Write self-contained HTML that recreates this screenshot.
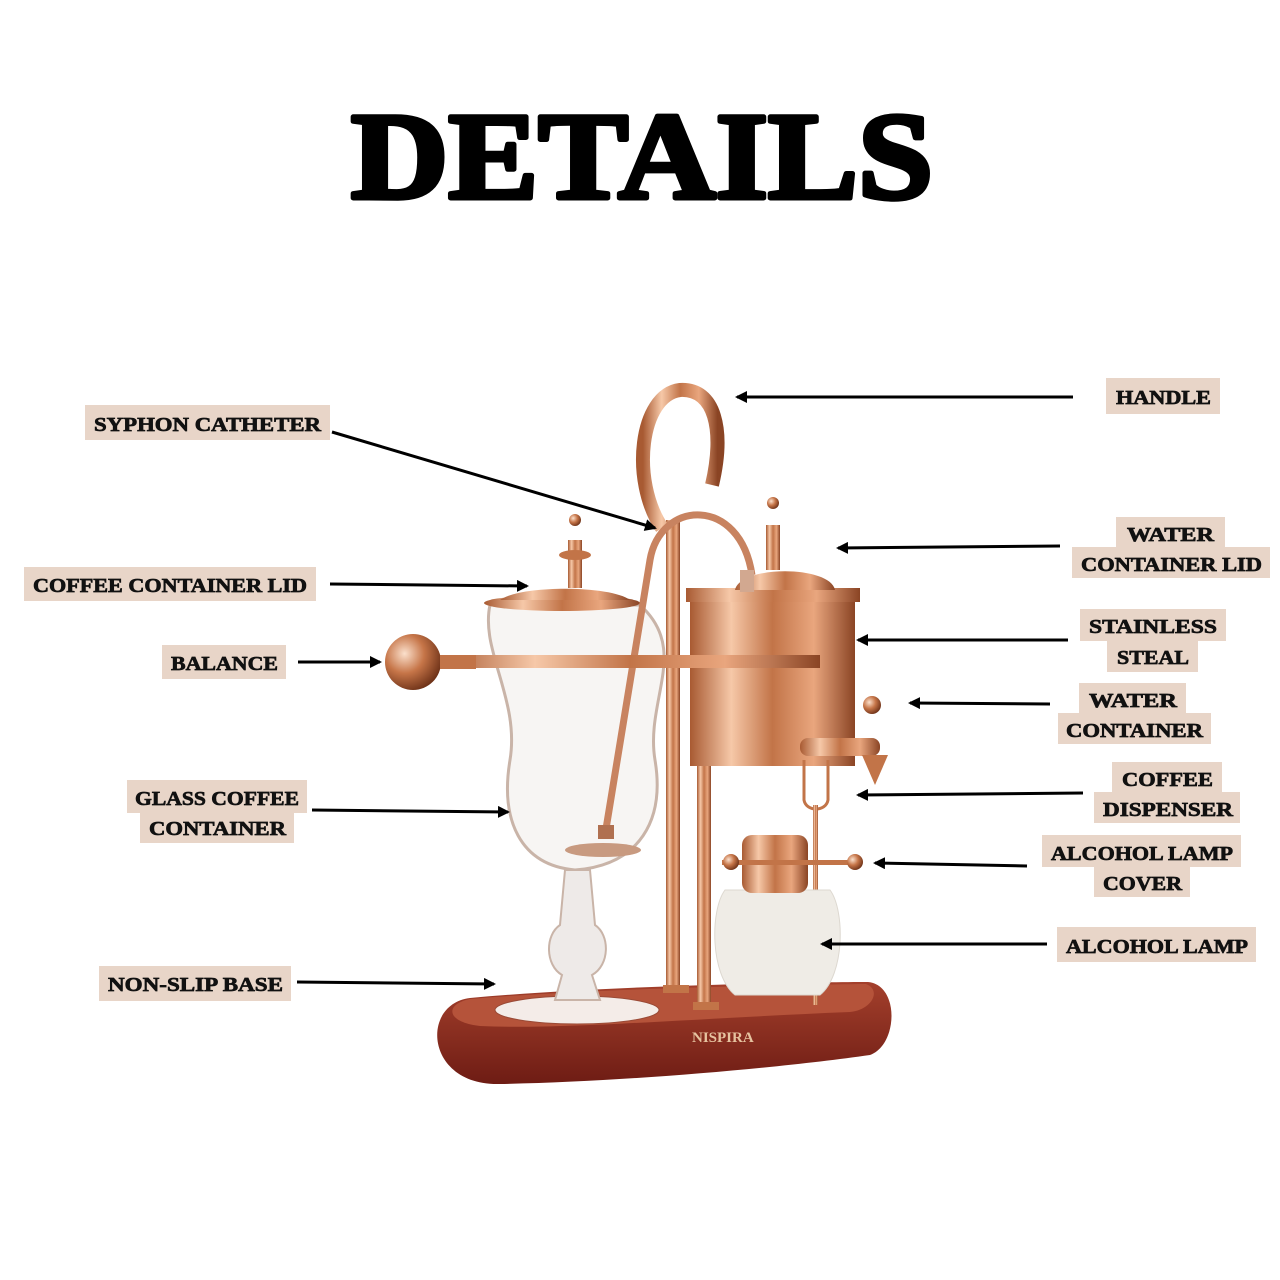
<!DOCTYPE html>
<html><head><meta charset="utf-8"><style>
html,body{margin:0;padding:0;background:#fff;}
svg{display:block;}
text{font-family:"Liberation Serif",serif;font-weight:bold;fill:#111;}
</style></head><body>
<svg width="1280" height="1280" viewBox="0 0 1280 1280" xmlns="http://www.w3.org/2000/svg">
<defs>
<linearGradient id="cu" x1="0" x2="1" y1="0" y2="0">
<stop offset="0" stop-color="#a85a32"/><stop offset="0.25" stop-color="#f6c8a8"/><stop offset="0.5" stop-color="#c27448"/><stop offset="0.75" stop-color="#e9a67e"/><stop offset="1" stop-color="#8a4424"/>
</linearGradient>
<linearGradient id="wood" x1="0" x2="0" y1="0" y2="1">
<stop offset="0" stop-color="#a4402c"/><stop offset="1" stop-color="#6e1c14"/>
</linearGradient>
<radialGradient id="ball" cx="0.35" cy="0.35" r="0.7"><stop offset="0" stop-color="#fbe0cc"/><stop offset="0.5" stop-color="#c67548"/><stop offset="1" stop-color="#6e3218"/></radialGradient>
<marker id="ah" markerWidth="12" markerHeight="12" refX="10" refY="6" orient="auto" markerUnits="userSpaceOnUse"><path d="M0,0 L12,6 L0,12 z" fill="#000"/></marker>
</defs>

<text x="351" y="198" font-size="124" textLength="582" lengthAdjust="spacingAndGlyphs" stroke="#000" stroke-width="5" stroke-linejoin="round" style="fill:#000">DETAILS</text>

<!-- base -->
<path d="M470,998 C600,986 800,982 868,982 C900,985 898,1045 870,1055 C780,1068 620,1082 500,1084 C425,1086 420,1004 470,998 z" fill="url(#wood)"/>
<path d="M470,999 C600,988 780,985 866,984 C882,990 872,1010 850,1012 C700,1018 560,1030 480,1026 C445,1022 445,1004 470,999z" fill="#b5533a"/>
<ellipse cx="577" cy="1010" rx="82" ry="14" fill="#f4ece8" stroke="#9a4a36"/>
<text x="692" y="1042" font-size="15" style="fill:#e6c3a0">NISPIRA</text>

<!-- glass cup -->
<path d="M490,605 C480,650 520,700 510,760 C500,820 520,865 575,870 C640,865 665,820 655,760 C645,700 690,650 640,605 z" fill="#f7f5f3" stroke="#c9b4a8" stroke-width="3"/>
<path d="M565,870 L560,925 C545,935 545,965 562,975 L555,1000 L600,1000 L592,975 C610,965 610,935 595,925 L590,870z" fill="#eeeae8" stroke="#c9b4a8" stroke-width="2"/>
<!-- coffee lid -->
<ellipse cx="562" cy="603" rx="78" ry="8" fill="url(#cu)"/>
<path d="M500,600 C520,585 610,585 630,600z" fill="url(#cu)"/>
<rect x="568" y="540" width="14" height="48" fill="url(#cu)"/>
<ellipse cx="575" cy="555" rx="16" ry="5" fill="#c27448"/>
<circle cx="575" cy="520" r="6" fill="url(#ball)"/>
<!-- stand rods -->
<rect x="666" y="520" width="14" height="470" fill="url(#cu)"/>
<rect x="697" y="640" width="14" height="365" fill="url(#cu)"/>
<rect x="663" y="985" width="26" height="8" fill="#c27448"/>
<rect x="693" y="1002" width="26" height="8" fill="#c27448"/>
<!-- handle -->
<path d="M662,528 C630,480 640,395 680,390 C715,388 725,430 712,485" fill="none" stroke="url(#cu)" stroke-width="14"/>
<!-- siphon tube -->
<path d="M605,835 L650,560 C660,500 740,495 752,575" fill="none" stroke="#c88360" stroke-width="7"/>
<rect x="598" y="825" width="16" height="14" fill="#b07050"/>
<ellipse cx="603" cy="850" rx="38" ry="7" fill="#c89a80"/>
<!-- water container -->
<rect x="690" y="598" width="165" height="168" fill="url(#cu)"/>
<rect x="686" y="588" width="174" height="14" fill="url(#cu)"/>
<path d="M735,590 C740,565 830,565 835,590z" fill="url(#cu)"/>
<rect x="766" y="525" width="14" height="45" fill="url(#cu)"/>
<circle cx="773" cy="503" r="6" fill="url(#ball)"/>
<rect x="740" y="570" width="14" height="22" fill="#d2a890"/>
<!-- balance bar -->
<rect x="440" y="655" width="380" height="13" fill="url(#cu)"/>
<circle cx="413" cy="662" r="28" fill="url(#ball)"/>
<rect x="440" y="655" width="36" height="14" fill="#c27448"/>
<!-- tap -->
<rect x="800" y="738" width="80" height="18" rx="8" fill="url(#cu)"/>
<circle cx="872" cy="705" r="9" fill="url(#ball)"/>
<path d="M862,755 L888,755 L875,785z" fill="#c27448"/>
<path d="M804,760 L804,800 C806,812 826,812 828,800 L828,760" fill="none" stroke="#c27448" stroke-width="3"/>
<rect x="813" y="805" width="5" height="200" fill="url(#cu)"/>
<!-- lamp -->
<path d="M725,890 C710,910 710,975 735,995 L820,995 C845,975 845,910 830,890z" fill="#efece6" stroke="#ddd8d0"/>
<rect x="742" y="835" width="66" height="58" rx="10" fill="url(#cu)"/>
<rect x="722" y="860" width="140" height="5" fill="#c27448"/>
<circle cx="731" cy="862" r="8" fill="url(#ball)"/>
<circle cx="855" cy="862" r="8" fill="url(#ball)"/>

<!-- labels -->
<g style="fill:#e8d5c8">
<rect x="1106" y="378" width="114" height="36"/>
<rect x="85" y="405" width="245" height="35"/>
<rect x="1116" y="517" width="109" height="31"/>
<rect x="1072" y="547" width="198" height="31"/>
<rect x="24" y="567" width="292" height="34"/>
<rect x="1080" y="609" width="146" height="32"/>
<rect x="1107" y="641" width="91" height="31"/>
<rect x="162" y="645" width="124" height="34"/>
<rect x="1079" y="683" width="107" height="31"/>
<rect x="1058" y="713" width="153" height="31"/>
<rect x="1112" y="762" width="110" height="31"/>
<rect x="1094" y="792" width="146" height="31"/>
<rect x="127" y="780" width="180" height="33"/>
<rect x="140" y="811" width="154" height="32"/>
<rect x="1042" y="835" width="199" height="32"/>
<rect x="1094" y="866" width="96" height="31"/>
<rect x="1057" y="927" width="199" height="35"/>
<rect x="99" y="966" width="192" height="35"/>
</g>
<g font-size="20" stroke="#111" stroke-width="0.7">
<text x="1116" y="404" textLength="95" lengthAdjust="spacingAndGlyphs">HANDLE</text>
<text x="94" y="431" textLength="227" lengthAdjust="spacingAndGlyphs">SYPHON CATHETER</text>
<text x="1127" y="541" textLength="87" lengthAdjust="spacingAndGlyphs">WATER</text>
<text x="1081" y="571" textLength="181" lengthAdjust="spacingAndGlyphs">CONTAINER LID</text>
<text x="33" y="592" textLength="274" lengthAdjust="spacingAndGlyphs">COFFEE CONTAINER LID</text>
<text x="1089" y="633" textLength="128" lengthAdjust="spacingAndGlyphs">STAINLESS</text>
<text x="1117" y="664" textLength="72" lengthAdjust="spacingAndGlyphs">STEAL</text>
<text x="171" y="670" textLength="107" lengthAdjust="spacingAndGlyphs">BALANCE</text>
<text x="1089" y="707" textLength="88" lengthAdjust="spacingAndGlyphs">WATER</text>
<text x="1066" y="737" textLength="137" lengthAdjust="spacingAndGlyphs">CONTAINER</text>
<text x="1122" y="786" textLength="91" lengthAdjust="spacingAndGlyphs">COFFEE</text>
<text x="1103" y="816" textLength="130" lengthAdjust="spacingAndGlyphs">DISPENSER</text>
<text x="135" y="805" textLength="164" lengthAdjust="spacingAndGlyphs">GLASS COFFEE</text>
<text x="149" y="835" textLength="137" lengthAdjust="spacingAndGlyphs">CONTAINER</text>
<text x="1051" y="860" textLength="182" lengthAdjust="spacingAndGlyphs">ALCOHOL LAMP</text>
<text x="1103" y="890" textLength="79" lengthAdjust="spacingAndGlyphs">COVER</text>
<text x="1066" y="953" textLength="182" lengthAdjust="spacingAndGlyphs">ALCOHOL LAMP</text>
<text x="108" y="991" textLength="175" lengthAdjust="spacingAndGlyphs">NON-SLIP BASE</text>
</g>

<!-- arrows -->
<g stroke="#000" stroke-width="3" marker-end="url(#ah)">
<line x1="1073" y1="397" x2="737" y2="397"/>
<line x1="332" y1="432" x2="655" y2="528"/>
<line x1="1060" y1="546" x2="838" y2="548"/>
<line x1="330" y1="584" x2="527" y2="586"/>
<line x1="1068" y1="640" x2="858" y2="640"/>
<line x1="298" y1="662" x2="380" y2="662"/>
<line x1="1050" y1="704" x2="910" y2="703"/>
<line x1="1083" y1="793" x2="858" y2="795"/>
<line x1="312" y1="810" x2="508" y2="812"/>
<line x1="1027" y1="866" x2="875" y2="863"/>
<line x1="1047" y1="944" x2="822" y2="944"/>
<line x1="297" y1="982" x2="494" y2="984"/>
</g>
</svg>
</body></html>
